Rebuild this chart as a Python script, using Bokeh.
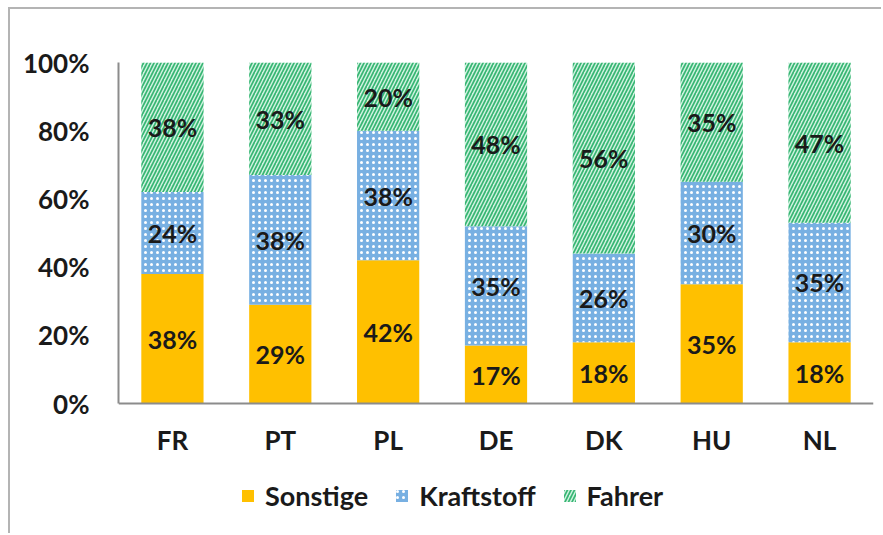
from bokeh.plotting import figure
from bokeh.models import ColumnDataSource, Legend, LegendItem, FactorRange, Range1d, FixedTicker
from bokeh.core.properties import value
from bokeh.embed import file_html
from bokeh.resources import INLINE

countries = ["FR", "PT", "PL", "DE", "DK", "HU", "NL"]
series = ["Sonstige", "Kraftstoff", "Fahrer"]
sonstige = [38, 29, 42, 17, 18, 35, 18]
kraftstoff = [24, 38, 38, 35, 26, 30, 35]
fahrer = [38, 33, 20, 48, 56, 35, 47]
y_ticks = [0, 20, 40, 60, 80, 100]

FONT = "Lato"
TXT = "#1a1a1a"

# frame extends below the 0% line to host the legend; axes are pinned to 0..100
p = figure(width=873, height=526, x_range=FactorRange(*countries, range_padding=0),
           y_range=Range1d(-34.3, 100), output_backend="svg", toolbar_location=None,
           min_border_left=108, min_border_right=10, min_border_top=53, min_border_bottom=15)
p.styles = {"margin-left": "8px", "margin-top": "7px",
            "border-left": "2px solid #b4b4b4", "border-top": "2px solid #b4b4b4"}
p.outline_line_color = None
p.xgrid.grid_line_color = None
p.ygrid.grid_line_color = None

styles = [
    dict(fill_color="#FFC000", hatch_pattern=None),
    dict(fill_color="#78b0e2", hatch_pattern="dot", hatch_color="white", hatch_scale=6, hatch_weight=1.5),
    dict(fill_color="#d2f3e1", hatch_pattern="right_diagonal_line", hatch_color="#38b674", hatch_scale=7, hatch_weight=1.7),
]
bottom = [0] * len(countries)
renderers = []
for name, vals, st in zip(series, [sonstige, kraftstoff, fahrer], styles):
    top = [b + v for b, v in zip(bottom, vals)]
    s = ColumnDataSource(dict(x=countries, bottom=bottom, top=top,
                              mid=[(b + t) / 2 for b, t in zip(bottom, top)],
                              lab=[f"{v}%" for v in vals]))
    kw = dict(fill_color=st["fill_color"], line_color=None)
    if st["hatch_pattern"]:
        kw.update(hatch_pattern=st["hatch_pattern"], hatch_color=st["hatch_color"],
                  hatch_scale=st["hatch_scale"], hatch_weight=st["hatch_weight"])
    r = p.vbar(x="x", bottom="bottom", top="top", width=0.577, source=s, **kw)
    renderers.append(r)
    p.text(x="x", y="mid", text="lab", source=s, text_align="center", text_baseline="middle",
           text_font=value(FONT), text_font_style="bold", text_font_size="25px", text_color=TXT)
    bottom = top

p.xaxis.fixed_location = 0
p.yaxis.bounds = (0, 100)
p.yaxis.ticker = FixedTicker(ticks=y_ticks)
p.yaxis.major_label_overrides = {t: f"{t}%" for t in y_ticks}
for ax in (p.xaxis, p.yaxis):
    ax.axis_line_color = "#8c8c8c"
    ax.axis_line_width = 2
    ax.major_tick_line_color = None
    ax.minor_tick_line_color = None
    ax.major_label_text_font = FONT
    ax.major_label_text_font_style = "bold"
    ax.major_label_text_font_size = "26px"
    ax.major_label_text_color = TXT
p.yaxis.major_label_standoff = 23
p.xaxis.major_label_standoff = 14

legend = Legend(items=[LegendItem(label=n, renderers=[r]) for n, r in zip(series, renderers)],
                orientation="horizontal", location=(122, 8), padding=6,
                label_text_font=FONT, label_text_font_style="bold", label_text_font_size="27px",
                label_text_color=TXT, glyph_width=15, glyph_height=15, label_standoff=10,
                spacing=26, border_line_color=None, background_fill_alpha=0)
p.add_layout(legend)

open("out.html", "w").write(file_html(p, INLINE))
